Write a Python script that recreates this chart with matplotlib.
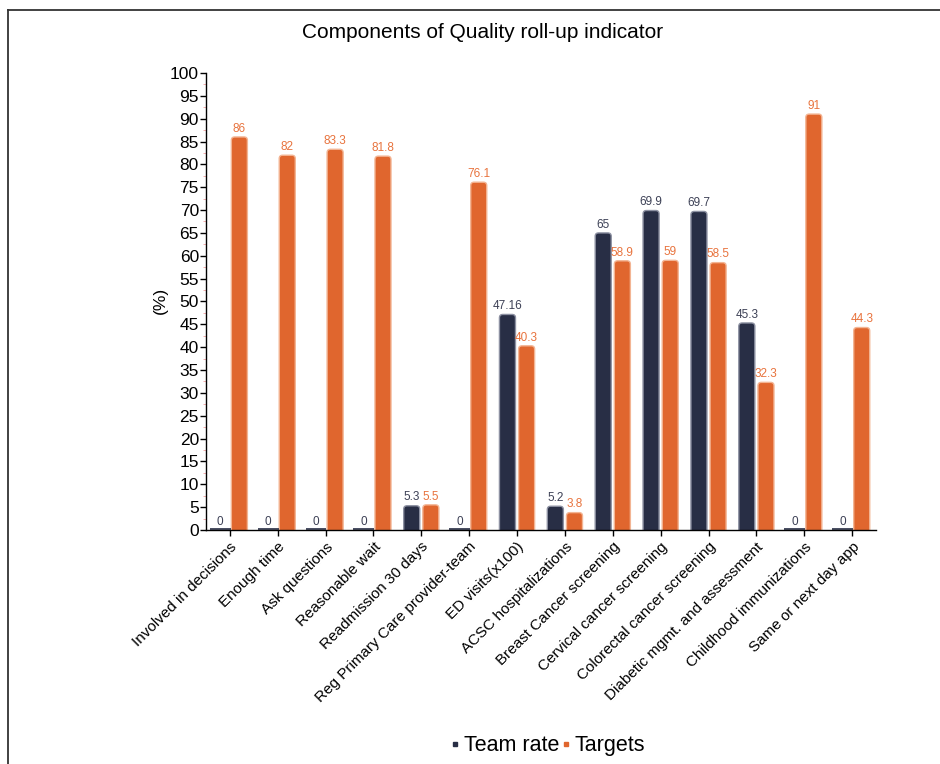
import numpy as np
import matplotlib
matplotlib.use("Agg")
import matplotlib.pyplot as plt
from matplotlib.patches import FancyBboxPatch
from matplotlib.lines import Line2D
from matplotlib.ticker import MultipleLocator

plt.rcParams['font.family'] = ['Liberation Sans', 'DejaVu Sans']

categories = ["Involved in decisions", "Enough time", "Ask questions", "Reasonable wait",
              "Readmission 30 days", "Reg Primary Care provider-team", "ED visits(x100)",
              "ACSC hospitalizations", "Breast Cancer screening", "Cervical cancer screening",
              "Colorectal cancer screening", "Diabetic mgmt. and assessment",
              "Childhood immunizations", "Same or next day app"]
team_rate = [0, 0, 0, 0, 5.3, 0, 47.16, 5.2, 65, 69.9, 69.7, 45.3, 0, 0]
team_labels = ["0", "0", "0", "0", "5.3", "0", "47.16", "5.2", "65", "69.9", "69.7", "45.3", "0", "0"]
targets = [86, 82, 83.3, 81.8, 5.5, 76.1, 40.3, 3.8, 58.9, 59, 58.5, 32.3, 91, 44.3]
target_labels = ["86", "82", "83.3", "81.8", "5.5", "76.1", "40.3", "3.8", "58.9", "59", "58.5", "32.3", "91", "44.3"]

navy = "#282e45"
orange = "#e0662e"

fig = plt.figure(figsize=(9.4, 7.64), dpi=100)
ax = fig.add_axes([0.219, 0.3063, 0.713, 0.5982])

x = np.arange(len(categories))
w = 0.335
off = 0.2

# px per data unit, used to keep the corner rounding circular
px_x = 0.713 * 940 / 14.0
px_y = 0.5982 * 764 / 100.0
aspect = px_x / px_y


def rounded_bars(xs, vals, color, edge):
    bars = ax.bar(xs, vals, width=w, color=color)
    for b in bars:
        bx, bw, bh = b.get_x(), b.get_width(), b.get_height()
        b.set_visible(False)
        if bh <= 0:
            # zero values show as a short dark stroke on the baseline
            ax.plot([bx - 0.05, bx + bw + 0.05], [0.15, 0.15], color=color, linewidth=1.2,
                    solid_capstyle="butt")
            continue
        p = FancyBboxPatch((bx, -3), bw, bh + 3,
                           boxstyle="round,pad=0,rounding_size=0.07",
                           mutation_aspect=aspect,
                           facecolor=color, edgecolor=edge, linewidth=1.0)
        ax.add_patch(p)
    return bars


rounded_bars(x - off, team_rate, navy, "#8d91a2")
rounded_bars(x + off, targets, orange, "#f3b594")

for xi, v, lab in zip(x, team_rate, team_labels):
    ax.text(xi - off, v + 0.5, lab, ha="center", va="bottom", fontsize=8.5, color="#3c4055")
for xi, v, lab in zip(x, targets, target_labels):
    ax.text(xi + off, v + 0.5, lab, ha="center", va="bottom", fontsize=8.5, color="#e8733d")

ax.set_xlim(-0.5, 13.5)
ax.set_ylim(0, 100)
ax.yaxis.set_major_locator(MultipleLocator(5))
ax.yaxis.set_minor_locator(MultipleLocator(2.5))
ax.tick_params(axis="y", which="major", labelsize=12.5, length=4, width=1, pad=1)
ax.tick_params(axis="y", which="minor", length=2, color="#f2a0a0")
ax.set_xticks(x)
ax.set_xticklabels(categories, rotation=45, ha="right", rotation_mode="anchor", fontsize=11)
ax.tick_params(axis="x", length=4, width=1, pad=3)

for s in ["top", "right"]:
    ax.spines[s].set_visible(False)
ax.spines["left"].set_linewidth(1.0)
ax.spines["bottom"].set_linewidth(1.0)

ax.set_ylabel("(%)", fontsize=12.5)
ax.yaxis.set_label_coords(-0.057, 0.503)

fig.text(0.513, 0.957, "Components of Quality roll-up indicator", ha="center", va="center", fontsize=15)

handles = [Line2D([], [], marker="s", color=navy, linestyle="none", markersize=3.5),
           Line2D([], [], marker="s", color=orange, linestyle="none", markersize=3.5)]
fig.legend(handles, ["Team rate", "Targets"], loc="center", bbox_to_anchor=(0.583, 0.024),
           ncol=2, frameon=False, fontsize=15.5, handlelength=0.4, handletextpad=0.2,
           columnspacing=0.1)

# frame lines around the chart area
fig.add_artist(Line2D([8 / 940, 8 / 940], [0, 1 - 10 / 764], color="#333333", linewidth=1.3))
fig.add_artist(Line2D([8 / 940, 1], [1 - 10 / 764, 1 - 10 / 764], color="#333333", linewidth=1.3))

fig.savefig("out.png", dpi=100)
